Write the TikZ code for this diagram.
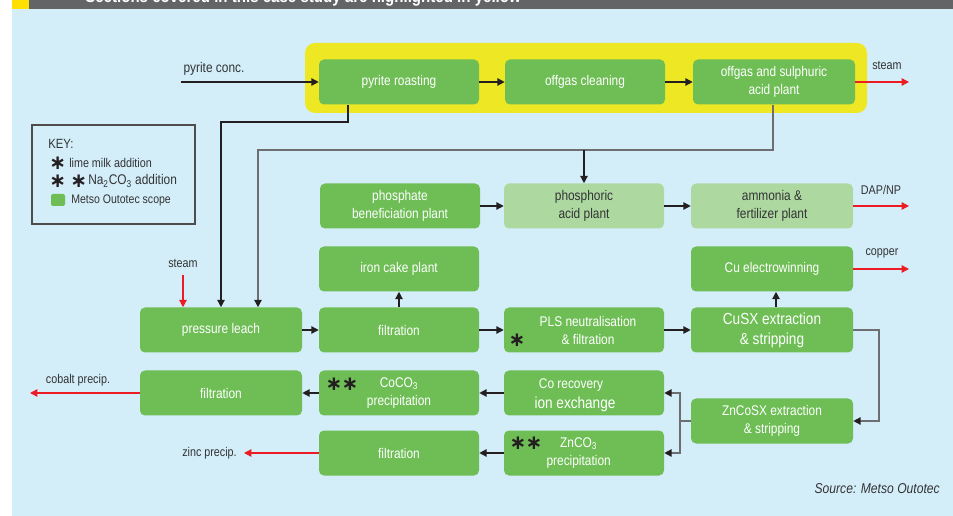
\documentclass[tikz,border=0pt]{standalone}
\usepackage{fontspec}
\setmainfont{Liberation Sans}[FakeStretch=0.85]
\newfontfamily\symfont{DejaVu Sans}
\usetikzlibrary{arrows.meta}
\definecolor{bgblue}{HTML}{D3EEF9}
\definecolor{mgreen}{HTML}{6EBE55}
\definecolor{lgreen}{HTML}{ADD9A0}
\definecolor{hyellow}{HTML}{EEE824}
\definecolor{hdrgrey}{HTML}{636466}
\definecolor{hdryellow}{HTML}{FFE000}
\definecolor{ared}{HTML}{ED1C24}
\definecolor{linedark}{HTML}{231F20}
\definecolor{linegrey}{HTML}{6D6E71}
\definecolor{txtdark}{HTML}{333335}
\newcommand{\myast}{{\symfont\bfseries\fontsize{15}{15}\selectfont ∗}}
\begin{document}
\begin{tikzpicture}[x=0.75pt,y=-0.75pt,
  box/.style={rounded corners=3.75pt, fill=mgreen, text=white, align=center,
    minimum width=120pt, minimum height=33.75pt, inner sep=0pt,
    font=\fontsize{10.5}{13.5}\selectfont},
  wbox/.style={box, minimum width=121.5pt},
  lbox/.style={box, fill=lgreen, text=txtdark},
  big/.style={font=\fontsize{12}{15}\selectfont},
  arr/.style={draw=linedark, line width=1pt, -{Triangle[length=5.5pt,width=5.5pt]}},
  arrg/.style={draw=linegrey, line width=1pt, -{Triangle[length=5.5pt,width=5.5pt,color=linedark]}},
  greyline/.style={draw=linegrey, line width=1pt},
  rarr/.style={draw=ared, line width=1pt, -{Triangle[length=5.5pt,width=5.5pt]}},
  lbl/.style={text=txtdark, inner sep=0pt, font=\fontsize{9.5}{11}\selectfont},
  keytxt/.style={text=txtdark, inner sep=0pt, anchor=west}
]
\useasboundingbox (0,0) rectangle (953,516);
\fill[white] (0,0) rectangle (953,516);
\fill[bgblue] (12,9) rectangle (953,516);
\fill[hdryellow] (12,0) rectangle (29,9);
\fill[hdrgrey] (29,0) rectangle (953,9);
\begin{scope}
  \clip (29,0) rectangle (953,9);
  \node[anchor=base west, text=white, inner sep=0pt, font=\bfseries\fontsize{13.3}{14}\selectfont] (hdr) at (85,2.5) {Sections covered in this case study are highlighted in yellow};
\end{scope}

% yellow highlight
\fill[hyellow, rounded corners=7.5pt] (305,43) rectangle (867,113);

% key
\draw[draw=linedark!80, line width=0.8pt] (32,125) rectangle (195,224);
\node[keytxt, font=\fontsize{10}{12}\selectfont] (k0) at (48,144) {KEY:};
\node[keytxt, text=linedark] (ka1) at (49,163) {\myast};
\node[keytxt, font=\fontsize{9.5}{11}\selectfont] (k1) at (69,163) {lime milk addition};
\node[keytxt, text=linedark] (ka2) at (49,181) {\myast};
\node[keytxt, text=linedark] (ka3) at (70,181) {\myast};
\node[keytxt, font=\fontsize{10.5}{12}\selectfont] (k2) at (88,181) {Na\textsubscript{2}CO\textsubscript{3} addition};
\fill[mgreen, rounded corners=1.5pt] (51,194) rectangle (65,206);
\node[keytxt, font=\fontsize{9.3}{11}\selectfont] (k3) at (71,200) {Metso Outotec scope};

% top row
\node[box] (pr) at (399,82) {pyrite roasting};
\node[box] (og) at (585,82) {offgas cleaning};
\node[wbox] (sa) at (774,82) {offgas and sulphuric\\acid plant};

% row 1
\node[box] (pb) at (400,206) {phosphate\\beneficiation plant};
\node[lbox] (pa) at (584,206) {phosphoric\\acid plant};
\node[lbox, minimum width=121.5pt] (af) at (772,206) {ammonia \&\\fertilizer plant};

% row 2
\node[box] (ic) at (399,269) {iron cake plant};
\node[wbox] (cuew) at (772,269) {Cu electrowinning};

% row 3
\node[wbox] (pl) at (221,330) {pressure leach};
\node[box] (f1) at (399,330) {filtration};
\node[box] (pls) at (584,330) {\hspace*{6pt}PLS neutralisation\\\hspace*{6pt}\& filtration};
\node[wbox, big] (cusx) at (772,330) {CuSX extraction\\\& stripping};
\node[text=linedark, inner sep=0pt] (plsast) at (517,340) {\myast};

% row 4
\node[wbox] (f2) at (221,393) {filtration};
\node[box] (coc) at (399,393) {CoCO\textsubscript{3}\\precipitation};
\node[text=linedark, inner sep=0pt] (coa1) at (334,384) {\myast};
\node[text=linedark, inner sep=0pt] (coa2) at (350,384) {\myast};
\node[box] (co) at (584,393) {};
\node[text=white, inner sep=0pt, font=\fontsize{10.5}{12}\selectfont] (cot1) at (571,385) {Co recovery};
\node[text=white, inner sep=0pt, font=\fontsize{12}{14}\selectfont] (cot2) at (575,404) {ion exchange};

% row 5
\node[wbox] (zn) at (772,421) {ZnCoSX extraction\\\& stripping};

% row 6
\node[box] (f3) at (399,453) {filtration};
\node[box] (znc) at (584,453) {\hspace*{-8pt}ZnCO\textsubscript{3}\\\hspace*{-8pt}precipitation};
\node[text=linedark, inner sep=0pt] (zna1) at (518,443) {\myast};
\node[text=linedark, inner sep=0pt] (zna2) at (534,443) {\myast};

% labels
\node[lbl, font=\fontsize{10.5}{12}\selectfont] (lpc) at (214,69) {pyrite conc.};
\node[lbl] (lst1) at (887,65) {steam};
\node[lbl] (ldap) at (881,190) {DAP/NP};
\node[lbl] (lcu) at (882,253) {copper};
\node[lbl] (lst2) at (183,263) {steam};
\node[lbl] (lco) at (78,380) {cobalt precip.};
\node[lbl, anchor=east] (lzn) at (237,453) {zinc precip.};
\node[text=txtdark, inner sep=0pt, anchor=east, font=\itshape\fontsize{10.7}{12}\selectfont] (src) at (940,489) {Source: Metso Outotec};

% coordinates
\coordinate (pcin) at (181,82);
\coordinate (stout) at (909,82);
\coordinate (dapout) at (909,206);
\coordinate (cuout) at (909,269);
\coordinate (st2) at (183,275);
\coordinate (coout) at (30,393);
\coordinate (znout) at (244,453);
\coordinate (j1) at (348,122);
\coordinate (j2) at (221,122);
\coordinate (j3) at (773,150);
\coordinate (j4) at (258,150);
\coordinate (j5) at (584,150);
\coordinate (r1) at (879,329);
\coordinate (b1) at (680,421);

% connectors
\draw[arr] (pcin) -- (pr.west);
\draw[arr] (pr.east) -- (og.west);
\draw[arr] (og.east) -- (sa.west);
\draw[rarr] (sa.east) -- (stout);
\draw[arr] (pr.south -| j1) -- (j1) -- (j2) -- (pl.north -| j2);
\draw[arrg] (sa.south -| j3) -- (j3) -- (j4) -- (pl.north -| j4);
\draw[arr] (j5) -- (pa.north);
\draw[arr] (pb.east) -- (pa.west);
\draw[arr] (pa.east) -- (af.west);
\draw[rarr] (af.east) -- (dapout);
\draw[rarr] (st2) -- (pl.north -| st2);
\draw[arr] (pl.east) -- (f1.west);
\draw[arr] (f1.north) -- (ic.south);
\draw[arr] (f1.east) -- (pls.west);
\draw[arr] (pls.east) -- (cusx.west);
\draw[arr] ([xshift=3pt]cusx.north) -- ([xshift=3pt]cuew.south);
\draw[rarr] (cuew.east) -- (cuout);
\draw[arrg] (cusx.east) -- (cusx.east -| r1) -- (zn.east -| r1) -- (zn.east);
\draw[greyline] (zn.west) -- (b1);
\draw[arrg] (b1) |- (co.east);
\draw[arrg] (b1) |- (znc.east);
\draw[arr] (co.west) -- (coc.east);
\draw[arr] (coc.west) -- (f2.east);
\draw[rarr] (f2.west) -- (coout);
\draw[arr] (znc.west) -- (f3.east);
\draw[rarr] (f3.west) -- (znout);
\end{tikzpicture}
\end{document}
